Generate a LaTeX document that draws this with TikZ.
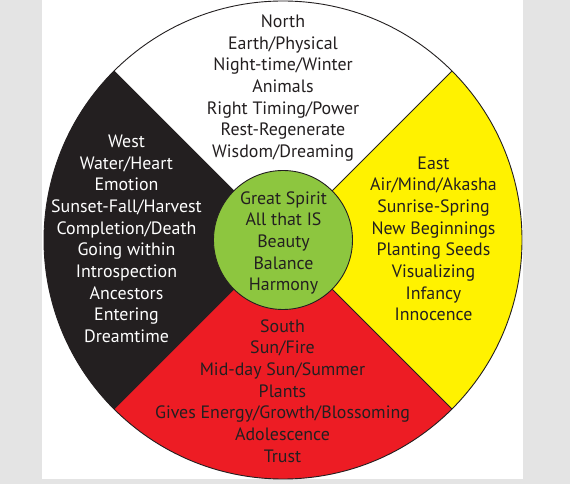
\documentclass[tikz,border=0pt]{standalone}
\usepackage{fontspec}
\setmainfont{PT Sans}
\definecolor{bggray}{HTML}{E4E4E4}
\definecolor{mwblack}{HTML}{231F20}
\definecolor{mwyellow}{HTML}{FFF200}
\definecolor{mwred}{HTML}{ED1C24}
\definecolor{mwgreen}{HTML}{8DC63F}
\begin{document}
\begin{tikzpicture}[x=1pt,y=1pt,
  label/.style={align=center,inner sep=0pt,font=\fontsize{17.9}{21.67}\selectfont},
  edge/.style={draw=mwblack,line width=0.9pt}]
\useasboundingbox (0,0) rectangle (570,484);
\fill[bggray] (0,0) rectangle (570,484);
\fill[white] (42,5) rectangle (523,484);
\coordinate (C) at (283,244);
\def\R{239}
\fill[white] (C) -- ++(45:\R) arc[start angle=45,end angle=135,radius=\R] -- cycle;
\fill[mwblack] (C) -- ++(135:\R) arc[start angle=135,end angle=225,radius=\R] -- cycle;
\fill[mwred] (C) -- ++(225:\R) arc[start angle=225,end angle=315,radius=\R] -- cycle;
\fill[mwyellow] (C) -- ++(-45:\R) arc[start angle=-45,end angle=45,radius=\R] -- cycle;
\draw[edge] (C) circle[radius=\R];
\foreach \a in {45,135,225,315} \draw[edge] (C) -- ++(\a:\R);
\node[circle,fill=mwgreen,draw=mwblack,line width=0.9pt,minimum size=139pt,inner sep=0pt] (hub) at (C) {};
\node[label,text=mwblack] (north) at (283,396) {North\\Earth/Physical\\Night-time/Winter\\Animals\\Right Timing/Power\\Rest-Regenerate\\Wisdom/Dreaming};
\node[label,text=white] (west) at (126.5,245) {West\\Water/Heart\\Emotion\\Sunset-Fall/Harvest\\Completion/Death\\Going within\\Introspection\\Ancestors\\Entering\\Dreamtime};
\node[label,text=mwblack] (east) at (433.5,245) {East\\Air/Mind/Akasha\\Sunrise-Spring\\New Beginnings\\Planting Seeds\\Visualizing\\Infancy\\Innocence};
\node[label,text=mwblack] (south) at (282.5,93) {South\\Sun/Fire\\Mid-day Sun/Summer\\Plants\\Gives Energy/Growth/Blossoming\\Adolescence\\Trust};
\node[label,text=mwblack] (spirit) at (283.5,241) {Great Spirit\\All that IS\\Beauty\\Balance\\Harmony};
\end{tikzpicture}
\end{document}
